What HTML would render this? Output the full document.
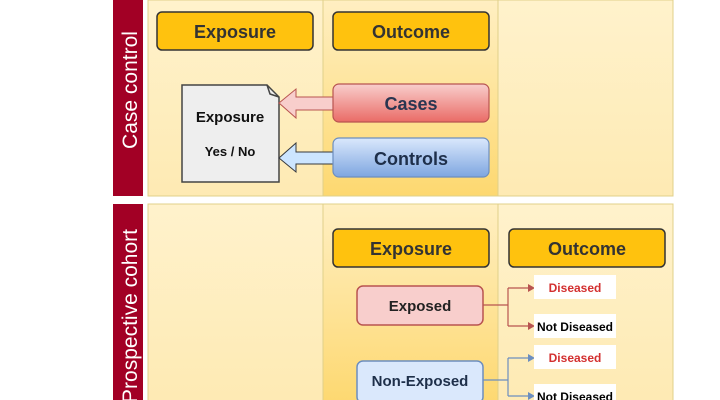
<!DOCTYPE html>
<html><head><meta charset="utf-8"><style>
html,body{margin:0;padding:0;background:#fff;}
svg{display:block;font-family:"Liberation Sans",Arial,sans-serif;}
</style></head><body>
<svg width="720" height="400" viewBox="0 0 720 400" xmlns="http://www.w3.org/2000/svg">
<defs>
<linearGradient id="lc" x1="0" y1="0" x2="0" y2="1"><stop offset="0" stop-color="#fff2cc"/><stop offset="1" stop-color="#feeab3"/></linearGradient>
<linearGradient id="mc" x1="0" y1="0" x2="0" y2="1"><stop offset="0" stop-color="#ffefc2"/><stop offset="1" stop-color="#fdd870"/></linearGradient>
<linearGradient id="red" x1="0" y1="0" x2="0" y2="1"><stop offset="0" stop-color="#f8cecc"/><stop offset="1" stop-color="#ea6b66"/></linearGradient>
<linearGradient id="blue" x1="0" y1="0" x2="0" y2="1"><stop offset="0" stop-color="#dae8fc"/><stop offset="1" stop-color="#7ea6e0"/></linearGradient>
</defs>
<rect x="113" y="0" width="30" height="196" fill="#a20025"/>
<text transform="translate(137,90) rotate(-90)" text-anchor="middle" fill="#fff" font-size="21">Case control</text>
<rect x="113" y="204" width="30" height="196" fill="#a20025"/>
<text transform="translate(137,316) rotate(-90)" text-anchor="middle" fill="#fff" font-size="21">Prospective cohort</text>
<rect x="148" y="0" width="175" height="196" fill="url(#lc)" stroke="#e0d08a"/>
<rect x="323" y="0" width="175" height="196" fill="url(#mc)" stroke="#e0d08a"/>
<rect x="498" y="0" width="175" height="196" fill="url(#lc)" stroke="#e0d08a"/>
<rect x="148" y="204" width="175" height="200" fill="url(#lc)" stroke="#e0d08a"/>
<rect x="323" y="204" width="175" height="200" fill="url(#mc)" stroke="#e0d08a"/>
<rect x="498" y="204" width="175" height="200" fill="url(#lc)" stroke="#e0d08a"/>
<g font-weight="bold" font-size="18" fill="#333" text-anchor="middle">
<rect x="157" y="12" width="156" height="38" rx="5" fill="#ffc20e" stroke="#333" stroke-width="1.5"/>
<text x="235" y="38">Exposure</text>
<rect x="333" y="12" width="156" height="38" rx="5" fill="#ffc20e" stroke="#333" stroke-width="1.5"/>
<text x="411" y="38">Outcome</text>
<rect x="333" y="229" width="156" height="38" rx="5" fill="#ffc20e" stroke="#333" stroke-width="1.5"/>
<text x="411" y="255">Exposure</text>
<rect x="509" y="229" width="156" height="38" rx="5" fill="#ffc20e" stroke="#333" stroke-width="1.5"/>
<text x="587" y="255">Outcome</text>
</g>
<path d="M182 85 H267 L279 97 V182 H182 Z" fill="#eeeeee" stroke="#444" stroke-width="1.5"/>
<path d="M267 85 L270 94 L279 97" fill="none" stroke="#444" stroke-width="1.5"/>
<text x="230" y="122" text-anchor="middle" font-weight="bold" font-size="15" fill="#111">Exposure</text>
<text x="230" y="156" text-anchor="middle" font-weight="bold" font-size="13" fill="#111">Yes / No</text>
<path d="M333 97 H296 V89 L279 103 L296 118 V110 H333 Z" fill="#f8cecc" stroke="#b85450" stroke-width="1"/>
<path d="M333 152 H296 V143 L279 158 L296 172 V164 H333 Z" fill="#cce5ff" stroke="#36393d" stroke-width="1"/>
<rect x="333" y="84" width="156" height="38" rx="6" fill="url(#red)" stroke="#b85450" stroke-width="1.2"/>
<text x="411" y="110" text-anchor="middle" font-weight="bold" font-size="18" fill="#2a3550">Cases</text>
<rect x="333" y="138" width="156" height="39" rx="6" fill="url(#blue)" stroke="#6c8ebf" stroke-width="1.2"/>
<text x="411" y="165" text-anchor="middle" font-weight="bold" font-size="18" fill="#1e2f4a">Controls</text>
<rect x="357" y="286" width="126" height="39" rx="6" fill="#f8cecc" stroke="#b85450" stroke-width="1.5"/>
<text x="420" y="311" text-anchor="middle" font-weight="bold" font-size="15" fill="#222">Exposed</text>
<rect x="357" y="361" width="126" height="42" rx="6" fill="#dae8fc" stroke="#6c8ebf" stroke-width="1.5"/>
<text x="420" y="386" text-anchor="middle" font-weight="bold" font-size="15" fill="#1e2f4a">Non-Exposed</text>
<g fill="none" stroke="#b85450" stroke-width="1.2">
<path d="M483 305 H508 M508 288 V326 M508 288 H530 M508 326 H530"/>
</g>
<path d="M528 284 L535 288 L528 292 Z M528 322 L535 326 L528 330 Z" fill="#b85450"/>
<g fill="none" stroke="#6c8ebf" stroke-width="1.2">
<path d="M483 380 H508 M508 358 V396 M508 358 H530 M508 396 H530"/>
</g>
<path d="M528 354 L535 358 L528 362 Z M528 392 L535 396 L528 400 Z" fill="#6c8ebf"/>
<g font-weight="bold" font-size="12" text-anchor="middle">
<rect x="534" y="275" width="82" height="24" fill="#fff"/>
<text x="575" y="292" fill="#d32f2f">Diseased</text>
<rect x="534" y="314" width="82" height="24" fill="#fff"/>
<text x="575" y="331" fill="#000">Not Diseased</text>
<rect x="534" y="345" width="82" height="24" fill="#fff"/>
<text x="575" y="362" fill="#d32f2f">Diseased</text>
<rect x="534" y="384" width="82" height="24" fill="#fff"/>
<text x="575" y="401" fill="#000">Not Diseased</text>
</g>
</svg>
</body></html>
